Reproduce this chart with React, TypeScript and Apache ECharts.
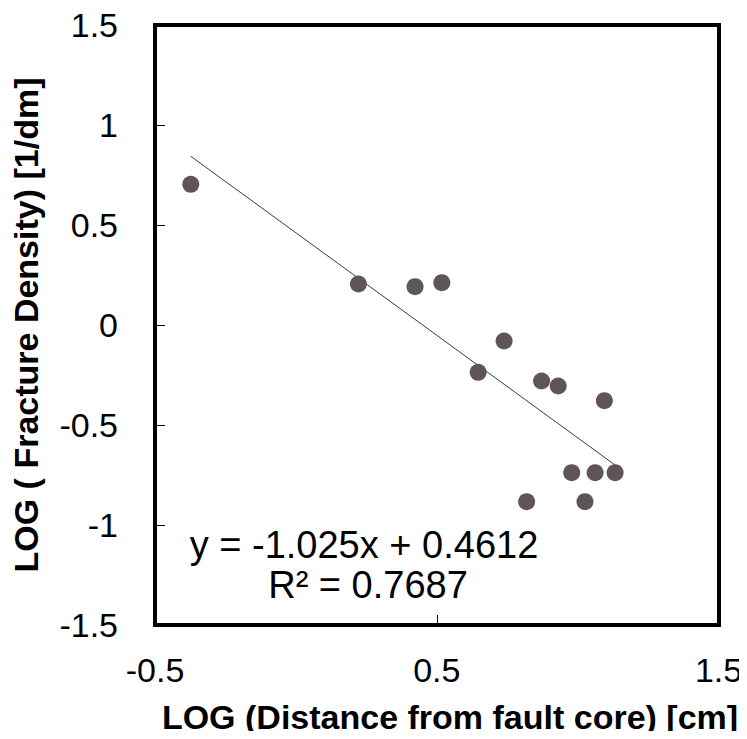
import React, { useEffect, useRef } from "react";
import * as echarts from "echarts";

const xValues = [-0.373, 0.222, 0.423, 0.518, 0.739, 0.647, 0.872, 0.931, 1.095, 0.979, 1.062, 1.133, 0.819, 1.026];
const yValues = [0.7035, 0.205, 0.1915, 0.2115, -0.08, -0.2365, -0.28, -0.305, -0.3785, -0.7385, -0.7385, -0.7385, -0.8835, -0.8835];
const slope = -1.025;
const intercept = 0.4612;
const rSquared = "0.7687";
const xTitle = "LOG (Distance from fault core) [cm]";
const yTitle = "LOG ( Fracture Density) [1/dm]";

const FONT = "Liberation Sans, Arial, sans-serif";

export default function App() {
  const ref = useRef<HTMLDivElement>(null);
  useEffect(() => {
    if (!ref.current) return;
    const chart = echarts.init(ref.current, null, { renderer: "svg" });
    const points = xValues.map((x, i) => [x, yValues[i]]);
    const xMin = Math.min(...xValues);
    const xMax = Math.max(...xValues);
    const trend = [
      [xMin, slope * xMin + intercept],
      [xMax, slope * xMax + intercept],
    ];
    const tickFmt = (v: number) => String(Math.round(v * 10) / 10);
    chart.setOption({
      animation: false,
      backgroundColor: "#fff",
      grid: {
        left: 155,
        top: 25,
        right: 28.5,
        bottom: 114,
        show: false,
        containLabel: false,
        outerBoundsMode: "none",
      },
      xAxis: [
        {
          type: "value",
          position: "bottom",
          min: -0.5,
          max: 1.5,
          interval: 1,
          axisLine: { show: true, onZero: false, lineStyle: { color: "#000", width: 4, cap: "square" } },
          axisTick: { show: true, inside: true, length: 10, lineStyle: { color: "#000", width: 1 } },
          splitLine: { show: false },
          axisLabel: {
            color: "#000",
            fontSize: 34,
            fontFamily: FONT,
            margin: 28,
            formatter: tickFmt,
          },
        },
        {
          type: "value",
          position: "top",
          min: -0.5,
          max: 1.5,
          interval: 1,
          axisLine: { show: true, onZero: false, lineStyle: { color: "#000", width: 4, cap: "square" } },
          axisTick: { show: false },
          axisLabel: { show: false },
          splitLine: { show: false },
        },
      ],
      yAxis: [
        {
          type: "value",
          position: "left",
          min: -1.5,
          max: 1.5,
          interval: 0.5,
          axisLine: { show: true, onZero: false, lineStyle: { color: "#000", width: 4, cap: "square" } },
          axisTick: { show: true, inside: true, length: 10, lineStyle: { color: "#000", width: 1 } },
          splitLine: { show: false },
          axisLabel: {
            color: "#000",
            fontSize: 34,
            fontFamily: FONT,
            margin: 37,
            formatter: tickFmt,
          },
          name: yTitle,
          nameLocation: "middle",
          nameGap: 112,
          nameRotate: 90,
          nameTextStyle: { color: "#000", fontSize: 34, fontWeight: "bold", fontFamily: FONT },
        },
        {
          type: "value",
          position: "right",
          min: -1.5,
          max: 1.5,
          interval: 0.5,
          axisLine: { show: true, onZero: false, lineStyle: { color: "#000", width: 4, cap: "square" } },
          axisTick: { show: false },
          axisLabel: { show: false },
          splitLine: { show: false },
        },
      ],
      series: [
        {
          type: "line",
          data: trend,
          symbol: "none",
          lineStyle: { color: "#3a3a3a", width: 1 },
          silent: true,
          z: 1,
        },
        {
          type: "scatter",
          data: points,
          symbol: "circle",
          symbolSize: 17,
          itemStyle: { color: "#5f5458", opacity: 1 },
          z: 2,
        },
      ],
      graphic: [
        {
          type: "text",
          x: 364,
          y: 545,
          style: {
            text: `y = ${slope}x + ${intercept}`,
            fontSize: 38,
            fontFamily: FONT,
            fill: "#000",
            align: "center",
            verticalAlign: "middle",
          },
        },
        {
          type: "text",
          x: 368,
          y: 585,
          style: {
            text: `R² = ${rSquared}`,
            fontSize: 38,
            fontFamily: FONT,
            fill: "#000",
            align: "center",
            verticalAlign: "middle",
          },
        },
        {
          type: "text",
          x: 450,
          y: 717,
          style: {
            text: xTitle,
            fontSize: 34,
            fontWeight: "bold",
            fontFamily: FONT,
            fill: "#000",
            align: "center",
            verticalAlign: "middle",
          },
        },
      ],
    });
    return () => chart.dispose();
  }, []);
  return <div ref={ref} style={{ width: 747, height: 739, margin: -8 }} />;
}
